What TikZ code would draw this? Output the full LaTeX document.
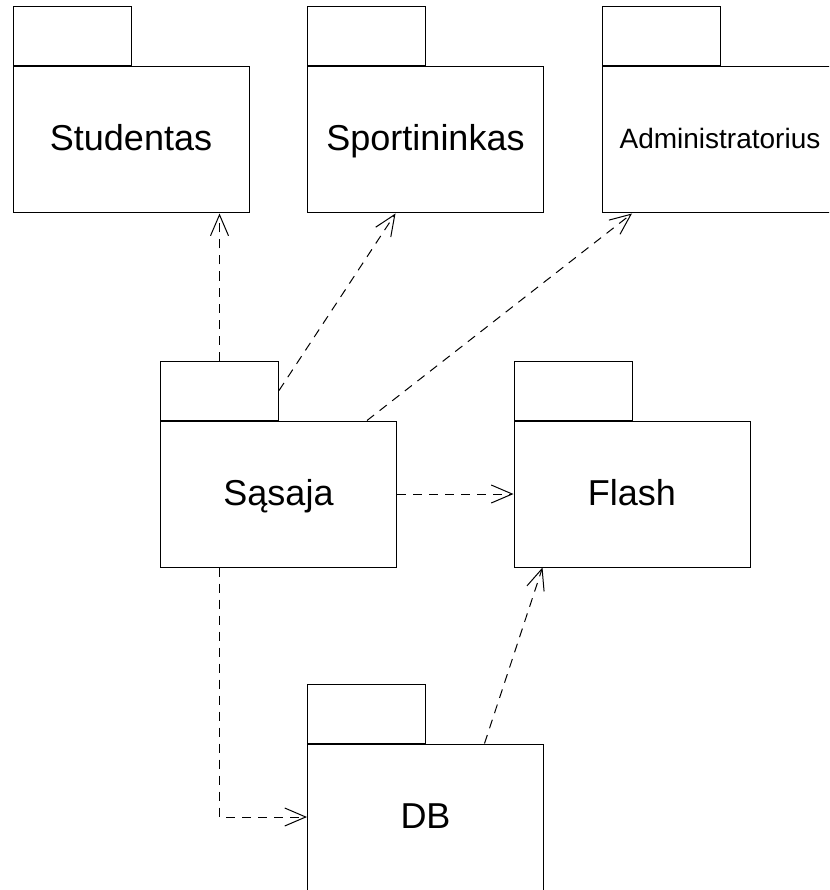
\documentclass[tikz,border=0pt]{standalone}
\usepackage{fontspec}
\setmainfont{Liberation Sans}
\usetikzlibrary{arrows.meta,calc}

\tikzset{
  pkgbody/.style={draw, rectangle, line width=1pt, inner sep=0pt,
    minimum width=236pt, minimum height=146pt,
    text height=26pt, text depth=4pt,
    font=\fontsize{36}{42}\selectfont},
  smalllabel/.style={font=\fontsize{28}{34}\selectfont,
    text height=20pt, text depth=2pt},
  pkgtab/.style={draw, rectangle, line width=1pt, inner sep=0pt,
    minimum width=118pt, minimum height=59pt, anchor=south west,
    text height=0pt, text depth=0pt},
  dep/.style={line width=1pt, dash pattern=on 9pt off 7pt,
    -{Straight Barb[length=21pt, width=18pt, line width=1pt]}}
}

\begin{document}
\begin{tikzpicture}[x=1pt, y=-1pt]
  \useasboundingbox (0,0) rectangle (829,890);
  \clip (0,0) rectangle (829,890);

  % package bodies
  \node[pkgbody] (stud)  at (131,140)   {Studentas};
  \node[pkgbody] (sport) at (425.5,140) {Sportininkas};
  \node[pkgbody, smalllabel] (admin) at (720,140) {Administratorius};
  \node[pkgbody] (sas)   at (278.5,494) {Sąsaja};
  \node[pkgbody] (flash) at (632,494)   {Flash};
  \node[pkgbody] (db)    at (425.5,817) {DB};

  % package tabs
  \node[pkgtab] (studtab)  at (stud.north west)  {};
  \node[pkgtab] (sporttab) at (sport.north west) {};
  \node[pkgtab] (admintab) at (admin.north west) {};
  \node[pkgtab] (sastab)   at (sas.north west)   {};
  \node[pkgtab] (flashtab) at (flash.north west) {};
  \node[pkgtab] (dbtab)    at (db.north west)    {};

  % dependencies
  \draw[dep] (sastab.north) -- (sastab.north |- stud.south);
  \draw[dep] (sastab.east) -- ($(sport.south)+(-30,0)$);
  \draw[dep] ($(sas.north)+(88.5,0)$) -- ($(admin.south)+(-88,0)$);
  \draw[dep] (sas.east) -- (flash.west);
  \draw[dep] (sastab.north |- sas.south) |- (db.west);
  \draw[dep] ($(db.north east)+(-59.5,0)$) -- ($(flash.south west)+(29,0)$);
\end{tikzpicture}
\end{document}
